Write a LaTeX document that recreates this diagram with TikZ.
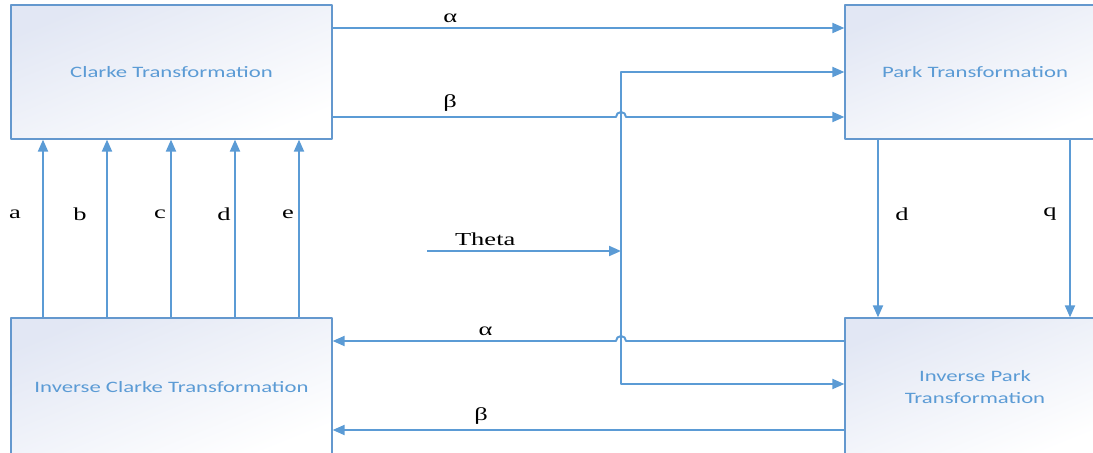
\documentclass[tikz,border=0pt]{standalone}
\usepackage{fontspec}
\usetikzlibrary{arrows.meta}
\newfontfamily\boxfont[FakeStretch=1.43]{Carlito}
\newfontfamily\lblfont[FakeStretch=1.45]{Liberation Serif}
\begin{document}
\begin{tikzpicture}[x=0.025cm, y=-0.025cm, line join=round,
    box/.style={draw=boxline, line width=0.85pt, top color=boxtint,
      bottom color=white, shading angle=22, inner sep=0pt, align=center,
      text=flowblue, font=\boxfont\fontsize{11.3}{16}\selectfont},
    flow/.style={flowblue, line width=1.4pt,
      -{Triangle[length=0.3cm, width=0.25cm]}},
    lbl/.style={font=\lblfont\fontsize{13}{15}\selectfont, text=black}]
  \definecolor{flowblue}{RGB}{91,155,213}
  \definecolor{boxline}{RGB}{100,152,206}
  \definecolor{boxtint}{RGB}{226,231,244}
  \useasboundingbox (0,0) rectangle (1093,453);
  \clip (0,0) rectangle (1093,453);
  \node[box, minimum width=8.025cm, minimum height=3.35cm] (clarke) at (171.5,72) {Clarke Transformation};
  \node[box, minimum width=6.5cm, minimum height=3.35cm] (park) at (975,72) {Park Transformation};
  \node[box, minimum width=8.025cm, minimum height=3.45cm] (iclarke) at (171.5,387) {Inverse Clarke Transformation};
  \node[box, minimum width=6.5cm, minimum height=3.45cm] (ipark) at (975,387) {Inverse Park\\Transformation};
  \coordinate (tin) at (427,251);
  \coordinate (tj) at (621,251);
  % clarke -> park
  \draw[flow] (clarke.east |- 0,28) -- node[lbl, pos=0.23, above] {α} (park.west |- 0,28);
  \draw[flow] (clarke.east |- 0,117) -- node[lbl, pos=0.415, above] {β} (616,117)
    arc[start angle=180, end angle=360, radius=5] -- (park.west |- 0,117);
  % theta
  \draw[flow] (tin) -- node[lbl, pos=0.3, above] {Theta} (tj);
  \draw[flow] (tj) |- (park.west |- 0,72);
  \draw[flow] (tj) |- (ipark.west |- 0,384);
  % inverse park -> inverse clarke
  \draw[flow] (ipark.west |- 0,341) -- (626,341)
    arc[start angle=0, end angle=-180, radius=5] -- node[lbl, pos=0.46, above] {α} (iclarke.east |- 0,341);
  \draw[flow] (ipark.west |- 0,430) -- node[lbl, pos=0.71, above] {β} (iclarke.east |- 0,430);
  % phase inputs
  \foreach \x/\lab/\dx in {43/a/-28, 107/b/-27, 171/c/-11, 235/d/-11, 299/e/-11}
    \draw[flow] (iclarke.north -| \x,0) -- node[lbl, xshift=\dx*0.025cm, yshift=0.35cm] {\lab} (clarke.south -| \x,0);
  \draw[flow] (park.south -| 878,0) -- node[lbl, xshift=0.6cm, yshift=0.35cm] {d} (ipark.north -| 878,0);
  \draw[flow] (park.south -| 1070,0) -- node[lbl, xshift=-0.5cm, yshift=0.35cm] {q} (ipark.north -| 1070,0);
\end{tikzpicture}
\end{document}
